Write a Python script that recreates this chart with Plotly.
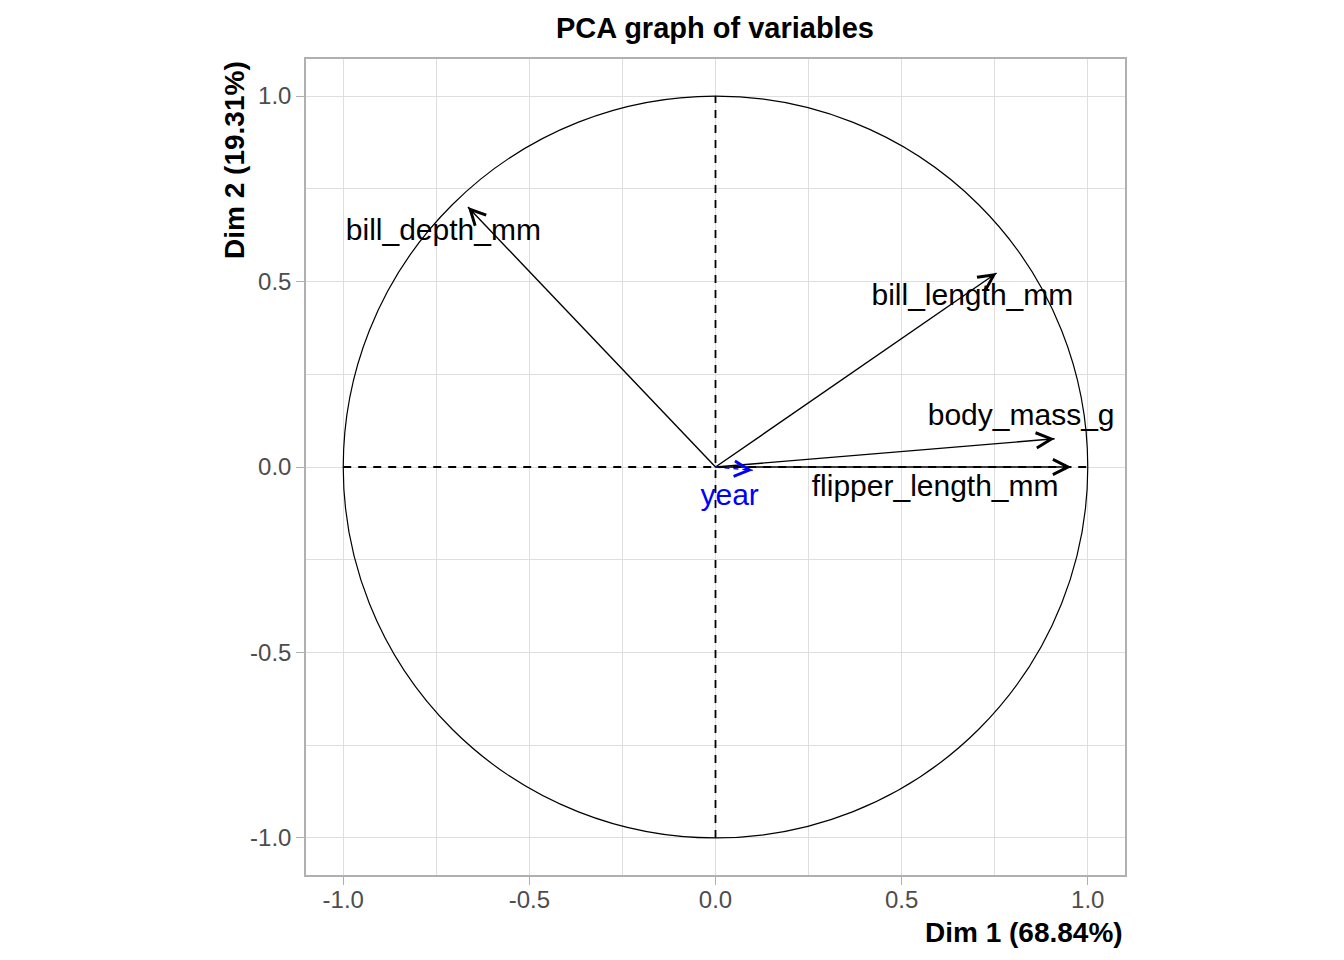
import math
import plotly.graph_objects as go

# variable coordinates on Dim 1 / Dim 2
variables = ["bill_length_mm", "bill_depth_mm", "flipper_length_mm", "body_mass_g", "year"]
dim1 = [0.755, -0.665, 0.956, 0.911, 0.100]
dim2 = [0.523, 0.701, 0.000, 0.076, -0.009]
# where the labels were placed
label_x = [0.690, -0.731, 0.590, 0.821, 0.038]
label_y = [0.456, 0.631, -0.058, 0.133, -0.082]
colours = ["black", "black", "black", "black", "blue"]
dashes = ["solid", "solid", "solid", "solid", "5px,4px"]

tick_vals = [-1.0, -0.5, 0.0, 0.5, 1.0]
tick_text = ["-1.0", "-0.5", "0.0", "0.5", "1.0"]

FONT = "Liberation Sans, Arial, sans-serif"
HEAD_PX = 10  # length of the solid piece that carries the arrow head

fig = go.Figure()

# shafts
for i, name in enumerate(variables):
    fig.add_trace(
        go.Scatter(
            x=[0, dim1[i]],
            y=[0, dim2[i]],
            mode="lines",
            line=dict(color=colours[i], width=1.4, dash=dashes[i]),
            hoverinfo="skip",
            showlegend=False,
        )
    )

# labels
fig.add_trace(
    go.Scatter(
        x=label_x,
        y=label_y,
        mode="text",
        text=variables,
        textfont=dict(family=FONT, size=30, color=colours),
        hoverinfo="skip",
        showlegend=False,
    )
)

# arrow heads
for i, name in enumerate(variables):
    length = math.hypot(dim1[i], dim2[i])
    fig.add_annotation(
        x=dim1[i],
        y=dim2[i],
        ax=-HEAD_PX * dim1[i] / length,
        ay=HEAD_PX * dim2[i] / length,
        xref="x",
        yref="y",
        axref="pixel",
        ayref="pixel",
        text="",
        showarrow=True,
        arrowhead=5,
        arrowsize=2.3,
        arrowwidth=1.3,
        arrowcolor=colours[i],
        standoff=0,
    )

# correlation circle and dashed axes
fig.add_shape(type="circle", x0=-1, y0=-1, x1=1, y1=1, xref="x", yref="y",
              line=dict(color="black", width=1.2), layer="above")
fig.add_shape(type="line", x0=-1, y0=0, x1=1, y1=0, xref="x", yref="y",
              line=dict(color="black", width=1.8, dash="8px,7px"))
fig.add_shape(type="line", x0=0, y0=-1, x1=0, y1=1, xref="x", yref="y",
              line=dict(color="black", width=1.8, dash="8px,7px"))

axis_style = dict(
    range=[-1.1, 1.1],
    tickvals=tick_vals,
    ticktext=tick_text,
    showgrid=True,
    gridcolor="#DEDEDE",
    gridwidth=1,
    minor=dict(dtick=0.25, tick0=0, showgrid=True, gridcolor="#DEDEDE", gridwidth=1),
    zeroline=False,
    showline=True,
    mirror=True,
    linecolor="#B0B0B0",
    linewidth=1.5,
    ticks="outside",
    ticklen=8,
    tickcolor="#B0B0B0",
    tickwidth=1.2,
    tickfont=dict(family=FONT, size=24, color="#4D4D4D"),
    fixedrange=True,
)

fig.update_xaxes(**axis_style, ticklabelstandoff=-6)
fig.update_yaxes(**axis_style)

fig.add_annotation(
    text="<b>Dim 1 (68.84%)</b>",
    xref="paper", yref="paper", x=1.0, y=-0.071,
    xanchor="right", yanchor="middle", showarrow=False,
    font=dict(family=FONT, size=28, color="black"),
)
fig.add_annotation(
    text="<b>Dim 2 (19.31%)</b>",
    xref="paper", yref="paper", x=-0.088, y=1.0,
    xanchor="center", yanchor="top", textangle=-90, showarrow=False,
    font=dict(family=FONT, size=28, color="black"),
)

fig.update_layout(
    width=1344,
    height=960,
    margin=dict(l=298, r=227, t=51, b=93),
    plot_bgcolor="white",
    paper_bgcolor="white",
    title=dict(
        text="<b>PCA graph of variables</b>",
        x=0.526, y=0.979, xanchor="center", yanchor="middle",
        font=dict(family=FONT, size=29, color="black"),
    ),
    showlegend=False,
)

fig.write_html("out.html")
